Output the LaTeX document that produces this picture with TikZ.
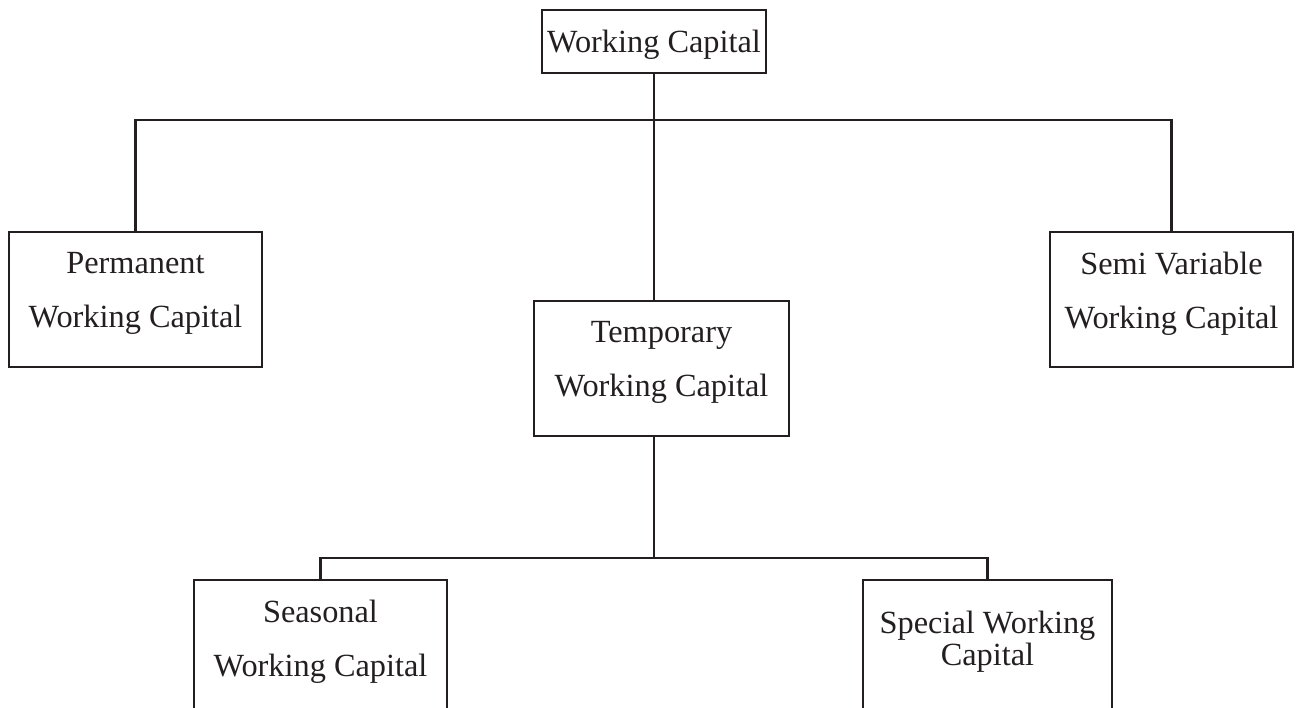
\documentclass[tikz,border=0pt]{standalone}
\usepackage{fontspec}
\setmainfont{Liberation Serif}
\usepackage{tikz}

\definecolor{inkgray}{RGB}{35,31,32}

\tikzset{
  wcbox/.style={draw=inkgray, text=inkgray, line width=0.7pt, align=center, inner sep=0pt,
    font=\fontsize{9.2}{11}\selectfont},
  twoline/.style={wcbox, minimum height=1.35cm, text depth=0.19cm},
  link/.style={draw=inkgray, line width=0.6pt}
}

\begin{document}
\begin{tikzpicture}
    \pgfmathsetmacro{\firstSplit}{5.88}
    \pgfmathsetmacro{\secondSplit}{1.50}

    \useasboundingbox (0,0) rectangle (13.04,7.08);
    \clip (0,0) rectangle (13.04,7.08);

    % Oberster Kasten
    \node[wcbox, minimum width=2.24cm, minimum height=0.63cm, text height=0.3cm] (wc) at (6.54,6.665) {Working Capital};

    % Erste Ebene
    \node[twoline, minimum width=2.53cm] (perm) at (1.355,4.085) {Permanent\\[4.4pt]Working Capital};
    \node[twoline, minimum width=2.55cm] (temp) at (6.615,3.395) {Temporary\\[4.4pt]Working Capital};
    \node[twoline, minimum width=2.43cm] (semi) at (11.715,4.085) {Semi Variable\\[4.4pt]Working Capital};

    % Zweite Ebene (unten abgeschnitten)
    \node[twoline, minimum width=2.53cm] (seas) at (3.205,0.605) {Seasonal\\[4.4pt]Working Capital};
    \node[twoline, minimum width=2.49cm] (spec) at (9.875,0.605) {Special Working\\[-2pt]Capital};

    % Verbindungen erste Ebene
    \coordinate (split1) at (wc.south |- 0,\firstSplit);
    \draw[link] (wc.south) -- (split1);
    \draw[link] (split1) -| (perm.north);
    \draw[link] (split1) -| (semi.north);
    \draw[link] (split1) -- (split1 |- temp.north);

    % Verbindungen zweite Ebene
    \coordinate (split2) at (split1 |- 0,\secondSplit);
    \draw[link] (split1 |- temp.south) -- (split2);
    \draw[link] (split2) -| (seas.north);
    \draw[link] (split2) -| (spec.north);
\end{tikzpicture}
\end{document}
